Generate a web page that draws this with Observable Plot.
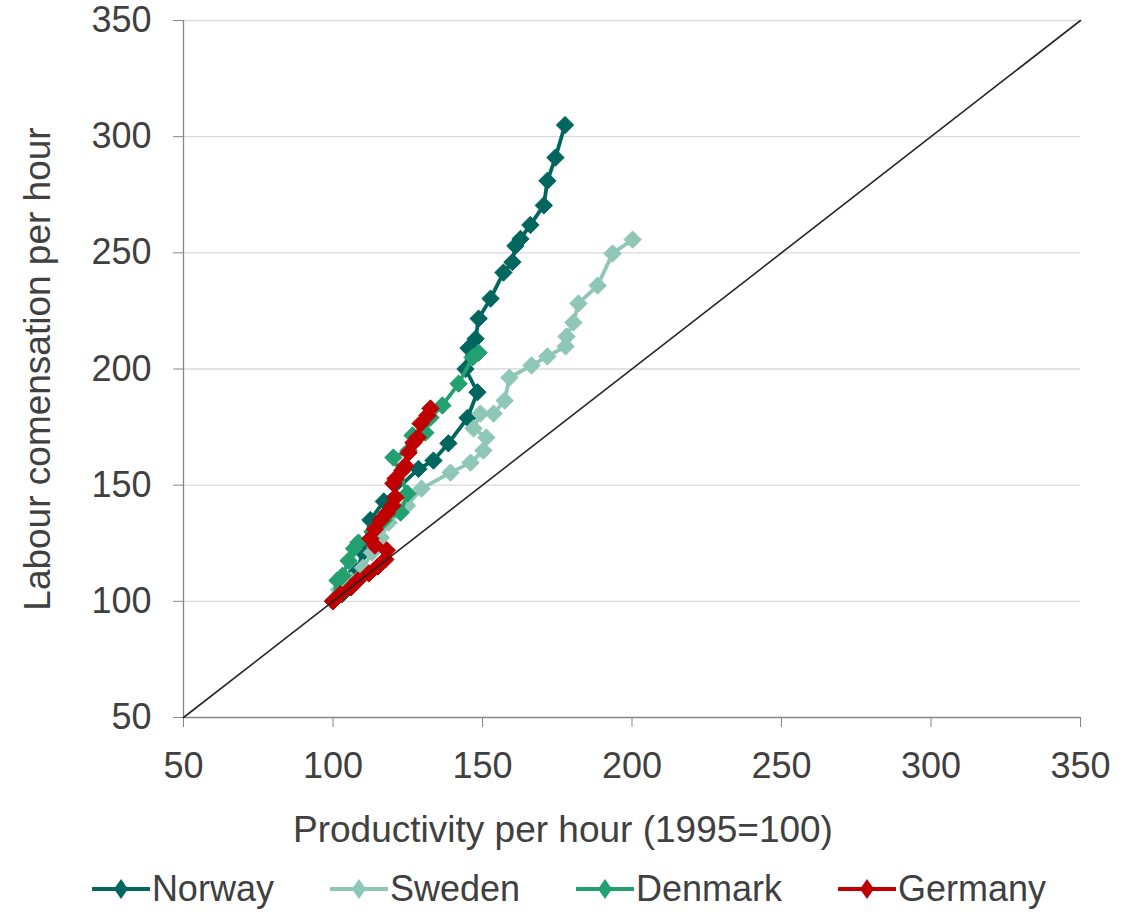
<!DOCTYPE html>
<html>
<head>
<meta charset="utf-8">
<script src="https://cdn.jsdelivr.net/npm/d3@7"></script>
<script src="https://cdn.jsdelivr.net/npm/@observablehq/plot@0.6"></script>
<style>
  html, body { margin: 0; padding: 0; background: #fff; }
  body { width: 1140px; height: 915px; overflow: hidden; font-family: "Liberation Sans", Arial, sans-serif; }
  #legend { display: flex; justify-content: center; align-items: center; gap: 56px; height: 58px; margin-left: -2px; color: #404040; font-size: 36px; }
  .item { display: flex; align-items: center; }
  .item svg { margin-right: 2px; }
</style>
</head>
<body>
<div id="chart"></div>
<div id="legend"></div>
<script>
// ---- data ----
const countries = ["Norway", "Sweden", "Denmark", "Germany"];
const colors = ["#00665e", "#8fc7b6", "#23a06f", "#c00000"];

const norwayX = [100, 103, 106, 108, 110, 112.5, 117, 128.6, 133.6, 138.6, 145, 148.3, 144.3, 145.3, 147.7, 148.7, 152.7, 157, 160, 161, 162.7, 166, 170.5, 171.7, 174.4, 177.6];
const norwayY = [100, 103, 108, 113, 121, 135, 143, 157, 160.6, 168, 179, 190, 200, 209, 213, 221.7, 230.3, 241.5, 246, 253, 256, 262, 270.4, 281, 291, 305];

const swedenX = [100, 102, 106, 110, 113, 116, 118.6, 124.8, 129.6, 139.3, 146, 150.3, 151.3, 147, 149.3, 153.7, 157.4, 159, 166.4, 171.7, 177.8, 178.1, 180.4, 182.1, 188.5, 193.5, 200.2];
const swedenY = [100, 105, 109, 114.5, 121, 127.4, 133.9, 141.2, 148.5, 155.4, 159.7, 164.9, 170.5, 174.4, 180.8, 180.8, 186.4, 196.3, 201.5, 205.4, 209.7, 214, 220, 228.2, 235.9, 249.7, 255.7];

const denmarkX = [100, 101.5, 103.2, 105.2, 107, 108.5, 113.2, 117, 122.6, 124.9, 120.2, 125.3, 126.6, 130.9, 132.6, 136.6, 142, 146.7, 148.7];
const denmarkY = [100, 109, 111, 117.5, 122.7, 125.3, 130, 135, 138.2, 146.4, 161.9, 164.9, 171.4, 172.6, 179.1, 184.3, 193.7, 205, 207];

const germanyX = [100, 102.5, 106, 108.3, 112, 115, 117.5, 118, 114, 112.5, 114, 116, 118, 119.9, 120.9, 120.2, 120.9, 123.2, 124.2, 125.3, 126.9, 128.3, 129.3, 131.6, 132.6];
const germanyY = [100, 103, 106, 109, 112, 115, 118, 122, 124, 127, 131, 135, 138, 141.2, 144.7, 150.7, 152.8, 156.3, 158.4, 164, 168.3, 170.5, 176.5, 180, 183];

const tickValues = [50, 100, 150, 200, 250, 300, 350];
const diagonal = [50, 350];

const seriesX = [norwayX, swedenX, denmarkX, germanyX];
const seriesY = [norwayY, swedenY, denmarkY, germanyY];
const rows = countries.flatMap((c, i) => seriesX[i].map((x, j) => ({country: c, x, y: seriesY[i][j]})));

const axisColor = "#868686";
const textColor = "#404040";

const marks = [
  Plot.gridY(tickValues.filter(v => v > 50), {stroke: "#d9d9d9", strokeOpacity: 1, strokeWidth: 1.3}),
  Plot.ruleX([50], {stroke: axisColor, strokeWidth: 1.3}),
  Plot.ruleY([50], {stroke: axisColor, strokeWidth: 1.3}),
  Plot.axisY(tickValues, {tickSize: 10, tickPadding: 22, stroke: axisColor, fill: textColor, fontSize: 36, label: null}),
  Plot.axisY({ticks: [], tickSize: 0, fill: textColor, fontSize: 37, label: "Labour comensation per hour", labelAnchor: "center", labelArrow: "none", labelOffset: 160}),
  Plot.axisX(tickValues, {tickSize: 10, tickPadding: 25, stroke: axisColor, fill: textColor, fontSize: 36, label: null}),
  Plot.axisX({ticks: [], tickSize: 0, fill: textColor, fontSize: 37, label: "Productivity per hour (1995=100)", labelAnchor: "center", labelArrow: "none", labelOffset: 124})
];
countries.forEach((c, i) => {
  const d = rows.filter(r => r.country === c);
  marks.push(Plot.line(d, {x: "x", y: "y", stroke: colors[i], strokeWidth: 3.8, curve: "linear"}));
  marks.push(Plot.dot(d, {x: "x", y: "y", symbol: "diamond2", r: 7.8, fill: colors[i], stroke: colors[i], strokeWidth: 1}));
});
marks.push(Plot.line(diagonal, {x: d => d, y: d => d, stroke: "#262626", strokeWidth: 1.6}));

const chart = Plot.plot({
  width: 1140,
  height: 860,
  marginLeft: 183,
  marginRight: 60,
  marginTop: 20,
  marginBottom: 143,
  x: {domain: [50, 350]},
  y: {domain: [50, 350]},
  style: {fontFamily: "'Liberation Sans', Arial, sans-serif", fontSize: "36px", color: textColor, background: "#fff", overflow: "visible"},
  marks
});
document.getElementById("chart").appendChild(chart);

// centre the x-axis title on the page, as in the reference (keep Plot's own offset)
d3.select(chart).selectAll('g[aria-label="x-axis label"]').attr("transform", function () {
  return "translate(-69,0) " + (this.getAttribute("transform") || "");
});

// legend
const legend = d3.select("#legend");
countries.forEach((c, i) => {
  const item = legend.append("div").attr("class", "item");
  const s = item.append("svg").attr("width", 58).attr("height", 22);
  s.append("line").attr("x1", 1).attr("x2", 57).attr("y1", 11).attr("y2", 11).attr("stroke", colors[i]).attr("stroke-width", 4).attr("stroke-linecap", "round");
  s.append("path").attr("d", "M29,1L36,11L29,21L22,11Z").attr("fill", colors[i]);
  item.append("span").text(c);
});
</script>
</body>
</html>
